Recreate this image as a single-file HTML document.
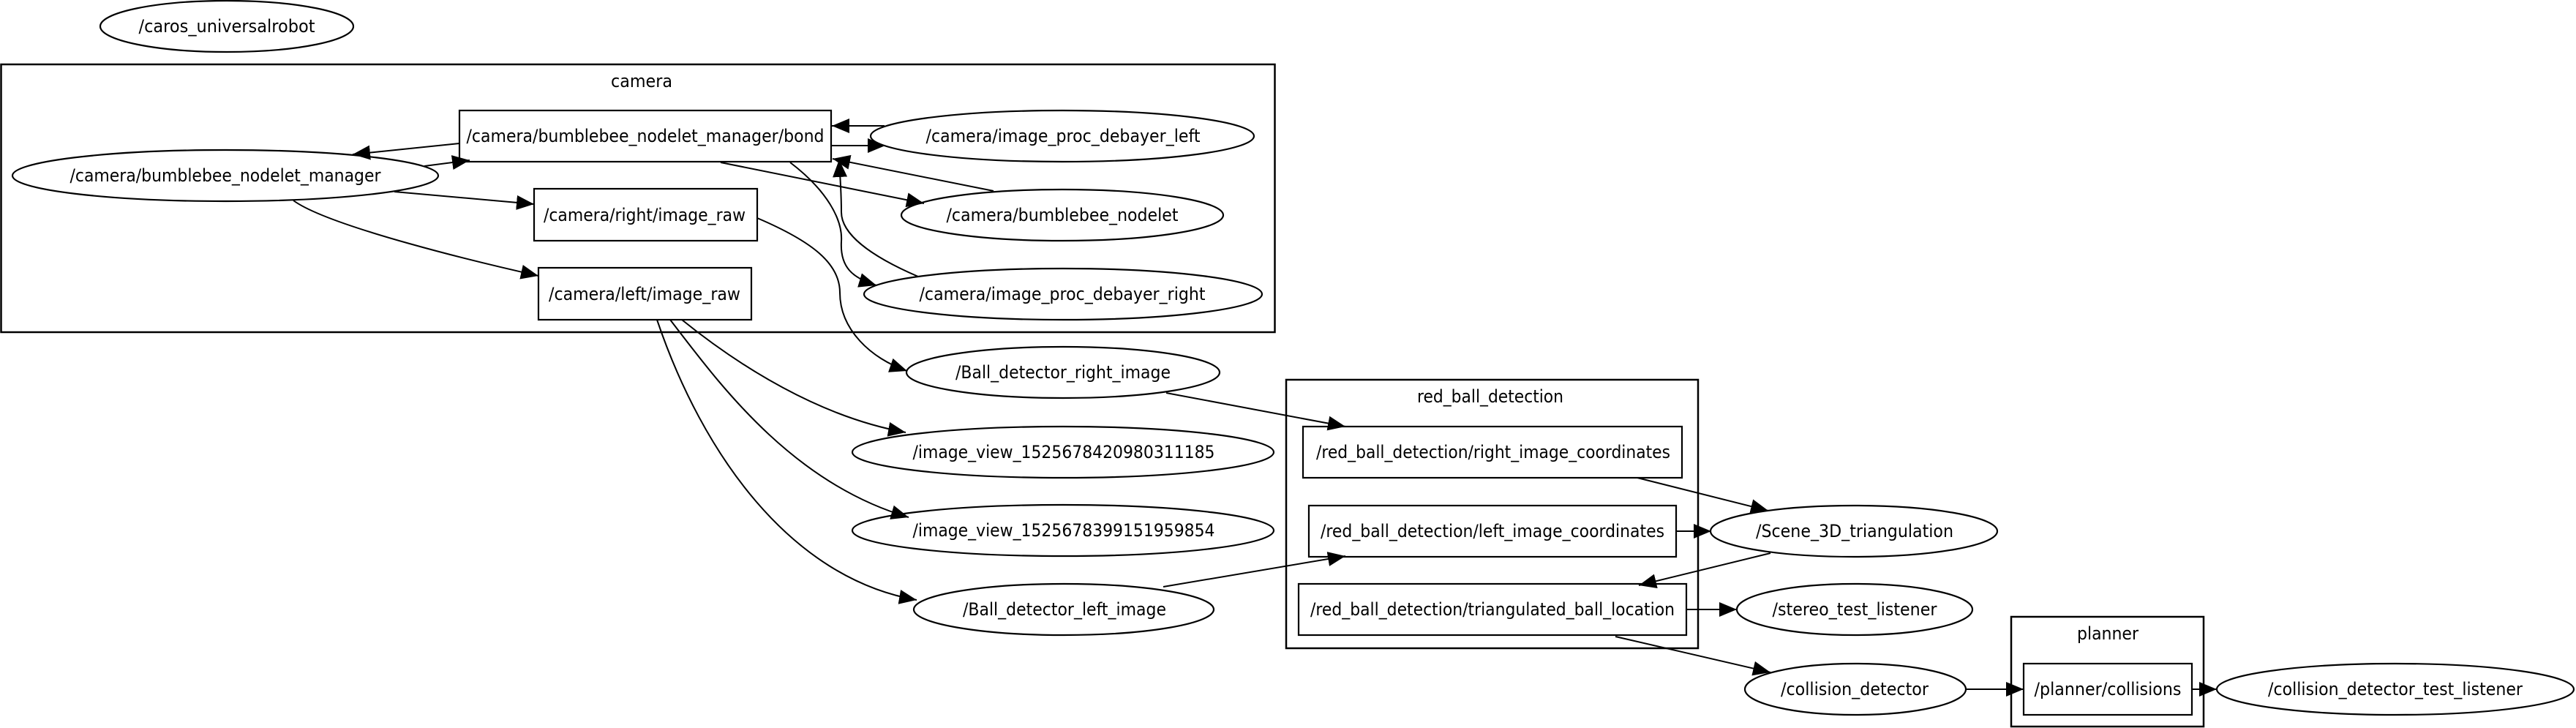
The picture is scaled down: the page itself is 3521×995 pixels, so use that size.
<!DOCTYPE html>
<html><head><meta charset="utf-8"><style>
html,body{margin:0;padding:0;background:#fff;width:3521px;height:995px;overflow:hidden}
svg text{font-family:"DejaVu Sans","Liberation Sans",sans-serif;font-size:24px;fill:#000;text-anchor:middle}
</style></head><body>
<svg width="3521" height="995" viewBox="0 0 3521 995" xmlns="http://www.w3.org/2000/svg">
<defs>
<marker id="a" markerUnits="userSpaceOnUse" markerWidth="26" markerHeight="20" refX="24" refY="10" orient="auto">
<path d="M0,0 L24,10 L0,20 Z" fill="#000"/>
</marker>
</defs>
<rect width="3521" height="995" fill="#fff"/>
<g fill="none" stroke="#000" stroke-width="2.5">
<rect x="1.5" y="88" width="1741" height="366"/>
<rect x="1758" y="519" width="563" height="367"/>
<rect x="2749" y="843" width="263" height="150"/>
</g>
<text x="877" y="119" textLength="84" lengthAdjust="spacingAndGlyphs">camera</text>
<text x="2037" y="550" textLength="200" lengthAdjust="spacingAndGlyphs">red_ball_detection</text>
<text x="2881" y="874" textLength="84" lengthAdjust="spacingAndGlyphs">planner</text>

<g fill="none" stroke="#000" stroke-width="2.2">
<ellipse cx="310" cy="36" rx="173" ry="35"/>
<ellipse cx="308" cy="240" rx="291" ry="35"/>
<rect x="628" y="151" width="508" height="70"/>
<ellipse cx="1452" cy="186" rx="262" ry="35"/>
<rect x="730" y="258" width="305" height="71"/>
<ellipse cx="1452" cy="294" rx="220" ry="35"/>
<rect x="736" y="366" width="291" height="71"/>
<ellipse cx="1453" cy="402" rx="272" ry="35"/>
<ellipse cx="1453" cy="509" rx="214" ry="35"/>
<ellipse cx="1453" cy="618" rx="288" ry="35"/>
<ellipse cx="1453" cy="725" rx="288" ry="35"/>
<ellipse cx="1454" cy="833" rx="205" ry="35"/>
<rect x="1781" y="583" width="518" height="70"/>
<rect x="1789" y="691" width="502" height="70"/>
<rect x="1775" y="798" width="530" height="70"/>
<ellipse cx="2534" cy="726" rx="196" ry="35"/>
<ellipse cx="2535" cy="833" rx="161" ry="35"/>
<ellipse cx="2536" cy="942" rx="151" ry="35"/>
<rect x="2766" y="907" width="230" height="70"/>
<ellipse cx="3274" cy="942" rx="244" ry="35"/>
</g>

<g fill="none" stroke="#000" stroke-width="2" marker-end="url(#a)">
<path d="M628,196 L482,211"/>
<path d="M580,227 L642,219"/>
<path d="M1209,172 L1137,172"/>
<path d="M1136,199 L1210,199"/>
<path d="M985,222 L1263,278"/>
<path d="M1358,261 L1138,217"/>
<path d="M539,262 L730,279"/>
<path d="M401,274 C450,310 660,360 736,377"/>
<path d="M1080,222 C1130,260 1152,300 1150,330 C1148,365 1165,380 1198,390"/>
<path d="M1255,378 C1190,350 1150,320 1150,290 C1150,260 1148,240 1147,218"/>
<path d="M1035,298 C1110,330 1148,360 1148,400 C1148,450 1190,490 1240,507"/>
<path d="M932,437 C1010,500 1120,570 1238,591"/>
<path d="M916,437 C980,520 1080,660 1242,707"/>
<path d="M898,437 C960,620 1080,790 1253,820"/>
<path d="M1594,537 L1839,583"/>
<path d="M1590,802 L1839,760"/>
<path d="M2238,653 L2417,698"/>
<path d="M2291,726 L2339,726"/>
<path d="M2420,756 L2240,800"/>
<path d="M2305,833 L2374,833"/>
<path d="M2208,870 L2420,919"/>
<path d="M2687,942 L2766,942"/>
<path d="M2996,942 L3030,942"/>
</g>

<g>
<text x="310" y="44" textLength="241" lengthAdjust="spacingAndGlyphs">/caros_universalrobot</text>
<text x="308" y="248" textLength="425" lengthAdjust="spacingAndGlyphs">/camera/bumblebee_nodelet_manager</text>
<text x="882" y="194" textLength="489" lengthAdjust="spacingAndGlyphs">/camera/bumblebee_nodelet_manager/bond</text>
<text x="1453" y="194" textLength="375" lengthAdjust="spacingAndGlyphs">/camera/image_proc_debayer_left</text>
<text x="881" y="302" textLength="276" lengthAdjust="spacingAndGlyphs">/camera/right/image_raw</text>
<text x="1452" y="302" textLength="317" lengthAdjust="spacingAndGlyphs">/camera/bumblebee_nodelet</text>
<text x="881" y="410" textLength="262" lengthAdjust="spacingAndGlyphs">/camera/left/image_raw</text>
<text x="1452" y="410" textLength="391" lengthAdjust="spacingAndGlyphs">/camera/image_proc_debayer_right</text>
<text x="1453" y="517" textLength="294" lengthAdjust="spacingAndGlyphs">/Ball_detector_right_image</text>
<text x="1454" y="626" textLength="413" lengthAdjust="spacingAndGlyphs">/image_view_1525678420980311185</text>
<text x="1454" y="733" textLength="413" lengthAdjust="spacingAndGlyphs">/image_view_1525678399151959854</text>
<text x="1455" y="841" textLength="278" lengthAdjust="spacingAndGlyphs">/Ball_detector_left_image</text>
<text x="2041" y="626" textLength="484" lengthAdjust="spacingAndGlyphs">/red_ball_detection/right_image_coordinates</text>
<text x="2040" y="734" textLength="470" lengthAdjust="spacingAndGlyphs">/red_ball_detection/left_image_coordinates</text>
<text x="2040" y="841" textLength="498" lengthAdjust="spacingAndGlyphs">/red_ball_detection/triangulated_ball_location</text>
<text x="2535" y="734" textLength="270" lengthAdjust="spacingAndGlyphs">/Scene_3D_triangulation</text>
<text x="2535" y="841" textLength="225" lengthAdjust="spacingAndGlyphs">/stereo_test_listener</text>
<text x="2535" y="950" textLength="202" lengthAdjust="spacingAndGlyphs">/collision_detector</text>
<text x="2881" y="950" textLength="201" lengthAdjust="spacingAndGlyphs">/planner/collisions</text>
<text x="3274" y="950" textLength="348" lengthAdjust="spacingAndGlyphs">/collision_detector_test_listener</text>
</g>
</svg>
</body></html>
